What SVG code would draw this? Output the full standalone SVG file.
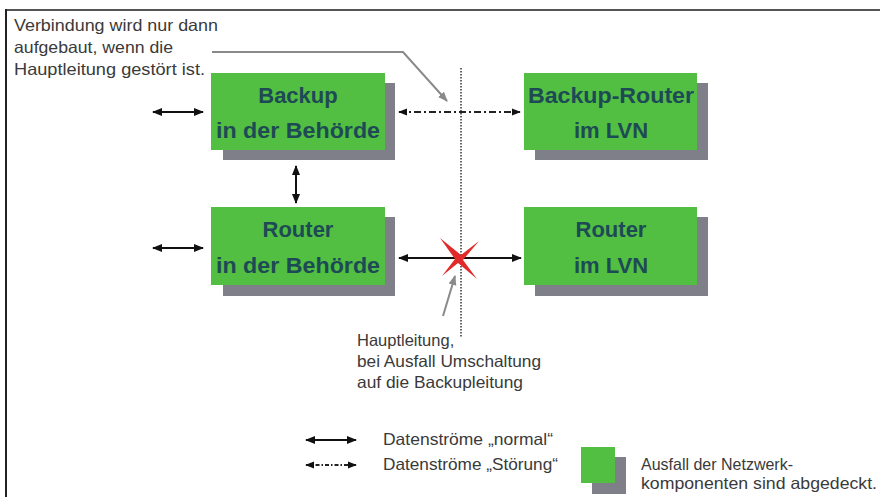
<svg xmlns="http://www.w3.org/2000/svg" width="880" height="497" viewBox="0 0 880 497">
<style>
.box{fill:#52be42}
.sh{fill:#7e7f88}
.nt{font-family:"Liberation Sans",Arial,sans-serif;font-size:22px;font-weight:bold;fill:#1d4a55;text-anchor:middle}
.lbl{font-family:"Liberation Sans",Arial,sans-serif;font-size:16.5px;fill:#3a3a3a}
.ln{stroke:#111;stroke-width:2;fill:none}
.dd{stroke:#222;stroke-width:1.8;fill:none;stroke-dasharray:7,3,2,3}
.gr{stroke:#8a8a8a;stroke-width:2;fill:none}
</style>
<defs>
<marker id="ah" viewBox="0 0 10 10" refX="9" refY="5" markerWidth="5" markerHeight="5" orient="auto-start-reverse" markerUnits="strokeWidth">
<path d="M0,1 L10,5 L0,9 z" fill="#111"/>
</marker>
<marker id="ag" viewBox="0 0 10 10" refX="9" refY="5" markerWidth="5" markerHeight="5" orient="auto" markerUnits="strokeWidth">
<path d="M0,1 L10,5 L0,9 z" fill="#8a8a8a"/>
</marker>
</defs>
<rect width="880" height="497" fill="#fff"/>
<g id="frame">
<line x1="6" y1="10" x2="880" y2="10" stroke="#555" stroke-width="2"/>
<line x1="6" y1="9" x2="6" y2="497" stroke="#222" stroke-width="2"/>
</g>
<g id="n1">
<rect class="sh" x="223" y="83" width="172" height="77"/>
<rect class="box" x="211" y="73" width="174" height="77"/>
<text class="nt" x="298" y="103">Backup</text>
<text class="nt" x="298" y="138" textLength="164" lengthAdjust="spacingAndGlyphs">in der Behörde</text>
</g>
<g id="n2">
<rect class="sh" x="535" y="83" width="173" height="77"/>
<rect class="box" x="524" y="73" width="173" height="77"/>
<text class="nt" x="611" y="103" textLength="166" lengthAdjust="spacingAndGlyphs">Backup-Router</text>
<text class="nt" x="611" y="138">im LVN</text>
</g>
<g id="n3">
<rect class="sh" x="223" y="217" width="172" height="79"/>
<rect class="box" x="211" y="207" width="174" height="78"/>
<text class="nt" x="298" y="237">Router</text>
<text class="nt" x="298" y="273" textLength="164" lengthAdjust="spacingAndGlyphs">in der Behörde</text>
</g>
<g id="n4">
<rect class="sh" x="535" y="217" width="173" height="79"/>
<rect class="box" x="524" y="207" width="173" height="78"/>
<text class="nt" x="611" y="237">Router</text>
<text class="nt" x="611" y="273">im LVN</text>
</g>
<g id="connectors">
<line x1="461" y1="68" x2="461" y2="338" stroke="#333" stroke-width="1.5" stroke-dasharray="1.5,1.5"/>
<line class="ln" x1="153" y1="112" x2="203" y2="112" marker-start="url(#ah)" marker-end="url(#ah)"/>
<line class="ln" x1="153" y1="248" x2="203" y2="248" marker-start="url(#ah)" marker-end="url(#ah)"/>
<line class="ln" x1="296" y1="166" x2="296" y2="203" marker-start="url(#ah)" marker-end="url(#ah)"/>
<line class="dd" x1="399" y1="112" x2="520" y2="112" marker-start="url(#ah)" marker-end="url(#ah)"/>
<line class="ln" x1="399" y1="258" x2="521" y2="258" marker-start="url(#ah)" marker-end="url(#ah)"/>
<polyline class="gr" points="212,52 403,52 447,101" marker-end="url(#ag)"/>
<line class="gr" x1="443" y1="316" x2="455" y2="276" marker-end="url(#ag)"/>
</g>
<g id="cross">
<path d="M440,238 L461,255 L479,241 L463,260 L477,279 L458,263 L442,276 L455,259 Z" fill="#e22a2a"/>
</g>
<g id="notes">
<text class="lbl" x="14" y="31" textLength="204" lengthAdjust="spacingAndGlyphs">Verbindung wird nur dann</text>
<text class="lbl" x="14" y="53" textLength="159" lengthAdjust="spacingAndGlyphs">aufgebaut, wenn die</text>
<text class="lbl" x="14" y="75" textLength="191" lengthAdjust="spacingAndGlyphs">Hauptleitung gestört ist.</text>
<text class="lbl" x="357" y="346">Hauptleitung,</text>
<text class="lbl" x="357" y="367" textLength="184" lengthAdjust="spacingAndGlyphs">bei Ausfall Umschaltung</text>
<text class="lbl" x="357" y="388" textLength="166" lengthAdjust="spacingAndGlyphs">auf die Backupleitung</text>
</g>
<g id="legend">
<line class="ln" x1="306" y1="440" x2="356" y2="440" marker-start="url(#ah)" marker-end="url(#ah)"/>
<line x1="306" y1="465" x2="356" y2="465" stroke="#222" stroke-width="1.8" stroke-dasharray="4,2,1.5,2" marker-start="url(#ah)" marker-end="url(#ah)"/>
<text class="lbl" x="383" y="445" textLength="170" lengthAdjust="spacingAndGlyphs">Datenströme „normal“</text>
<text class="lbl" x="383" y="470" textLength="175" lengthAdjust="spacingAndGlyphs">Datenströme „Störung“</text>
<rect class="sh" x="592" y="457" width="34" height="37"/>
<rect class="box" x="581" y="447" width="34" height="36"/>
<text class="lbl" x="641" y="470" textLength="152" lengthAdjust="spacingAndGlyphs">Ausfall der Netzwerk-</text>
<text class="lbl" x="641" y="489" textLength="236" lengthAdjust="spacingAndGlyphs">komponenten sind abgedeckt.</text>
</g>
</svg>
